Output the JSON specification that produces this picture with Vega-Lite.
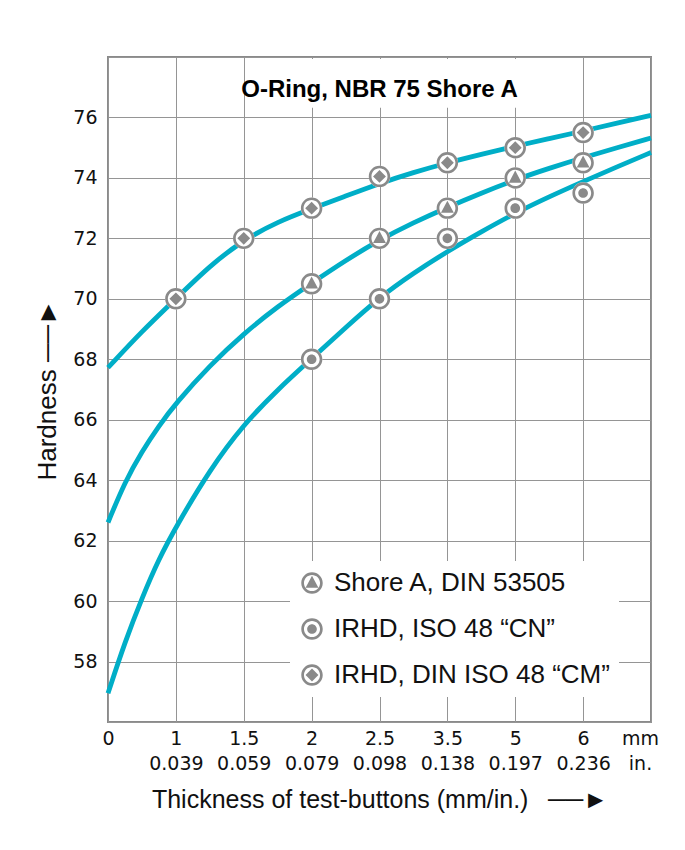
{
  "$schema": "https://vega.github.io/schema/vega-lite/v6.json",
  "width": 543,
  "height": 665,
  "autosize": {"type": "none"},
  "padding": {"left": 108, "top": 57, "right": 34, "bottom": 128},
  "background": "white",
  "title": {
    "text": "O-Ring, NBR 75 Shore A",
    "offset": -45,
    "anchor": "middle",
    "font": "Liberation Sans",
    "fontSize": 24,
    "fontWeight": "bold",
    "color": "#000000"
  },
  "datasets": {
    "curves": [
      {"method": "IRHD, DIN ISO 48 “CM”", "pos": 0, "hardness": 67.72},
      {"method": "IRHD, DIN ISO 48 “CM”", "pos": 0.5, "hardness": 68.93},
      {"method": "IRHD, DIN ISO 48 “CM”", "pos": 1, "hardness": 70.0},
      {"method": "IRHD, DIN ISO 48 “CM”", "pos": 1.5, "hardness": 71.1},
      {"method": "IRHD, DIN ISO 48 “CM”", "pos": 2, "hardness": 71.95},
      {"method": "IRHD, DIN ISO 48 “CM”", "pos": 2.5, "hardness": 72.55},
      {"method": "IRHD, DIN ISO 48 “CM”", "pos": 3, "hardness": 72.98},
      {"method": "IRHD, DIN ISO 48 “CM”", "pos": 3.5, "hardness": 73.4},
      {"method": "IRHD, DIN ISO 48 “CM”", "pos": 4, "hardness": 73.82},
      {"method": "IRHD, DIN ISO 48 “CM”", "pos": 4.5, "hardness": 74.18},
      {"method": "IRHD, DIN ISO 48 “CM”", "pos": 5, "hardness": 74.5},
      {"method": "IRHD, DIN ISO 48 “CM”", "pos": 5.5, "hardness": 74.78},
      {"method": "IRHD, DIN ISO 48 “CM”", "pos": 6, "hardness": 75.05},
      {"method": "IRHD, DIN ISO 48 “CM”", "pos": 6.5, "hardness": 75.3},
      {"method": "IRHD, DIN ISO 48 “CM”", "pos": 7, "hardness": 75.55},
      {"method": "IRHD, DIN ISO 48 “CM”", "pos": 7.5, "hardness": 75.81},
      {"method": "IRHD, DIN ISO 48 “CM”", "pos": 8, "hardness": 76.07},
      {"method": "Shore A, DIN 53505", "pos": 0, "hardness": 62.6},
      {"method": "Shore A, DIN 53505", "pos": 0.25, "hardness": 63.95},
      {"method": "Shore A, DIN 53505", "pos": 0.5, "hardness": 64.95},
      {"method": "Shore A, DIN 53505", "pos": 0.75, "hardness": 65.8},
      {"method": "Shore A, DIN 53505", "pos": 1, "hardness": 66.55},
      {"method": "Shore A, DIN 53505", "pos": 1.5, "hardness": 67.8},
      {"method": "Shore A, DIN 53505", "pos": 2, "hardness": 68.85},
      {"method": "Shore A, DIN 53505", "pos": 2.5, "hardness": 69.75},
      {"method": "Shore A, DIN 53505", "pos": 3, "hardness": 70.52},
      {"method": "Shore A, DIN 53505", "pos": 3.5, "hardness": 71.27},
      {"method": "Shore A, DIN 53505", "pos": 4, "hardness": 71.95},
      {"method": "Shore A, DIN 53505", "pos": 4.5, "hardness": 72.52},
      {"method": "Shore A, DIN 53505", "pos": 5, "hardness": 73.03},
      {"method": "Shore A, DIN 53505", "pos": 5.5, "hardness": 73.5},
      {"method": "Shore A, DIN 53505", "pos": 6, "hardness": 73.94},
      {"method": "Shore A, DIN 53505", "pos": 6.5, "hardness": 74.32},
      {"method": "Shore A, DIN 53505", "pos": 7, "hardness": 74.67},
      {"method": "Shore A, DIN 53505", "pos": 7.5, "hardness": 75.0},
      {"method": "Shore A, DIN 53505", "pos": 8, "hardness": 75.32},
      {"method": "IRHD, ISO 48 “CN”", "pos": 0, "hardness": 56.95},
      {"method": "IRHD, ISO 48 “CN”", "pos": 0.25, "hardness": 58.65},
      {"method": "IRHD, ISO 48 “CN”", "pos": 0.5, "hardness": 60.1},
      {"method": "IRHD, ISO 48 “CN”", "pos": 0.75, "hardness": 61.4},
      {"method": "IRHD, ISO 48 “CN”", "pos": 1, "hardness": 62.45},
      {"method": "IRHD, ISO 48 “CN”", "pos": 1.5, "hardness": 64.35},
      {"method": "IRHD, ISO 48 “CN”", "pos": 2, "hardness": 65.85},
      {"method": "IRHD, ISO 48 “CN”", "pos": 2.5, "hardness": 67.0},
      {"method": "IRHD, ISO 48 “CN”", "pos": 3, "hardness": 68.02},
      {"method": "IRHD, ISO 48 “CN”", "pos": 3.5, "hardness": 69.05},
      {"method": "IRHD, ISO 48 “CN”", "pos": 4, "hardness": 70.05},
      {"method": "IRHD, ISO 48 “CN”", "pos": 4.5, "hardness": 70.85},
      {"method": "IRHD, ISO 48 “CN”", "pos": 5, "hardness": 71.57},
      {"method": "IRHD, ISO 48 “CN”", "pos": 5.5, "hardness": 72.22},
      {"method": "IRHD, ISO 48 “CN”", "pos": 6, "hardness": 72.84},
      {"method": "IRHD, ISO 48 “CN”", "pos": 6.5, "hardness": 73.38},
      {"method": "IRHD, ISO 48 “CN”", "pos": 7, "hardness": 73.88},
      {"method": "IRHD, ISO 48 “CN”", "pos": 7.5, "hardness": 74.37},
      {"method": "IRHD, ISO 48 “CN”", "pos": 8, "hardness": 74.84}
    ],
    "markers": [
      {"method": "Shore A, DIN 53505", "pos": 3, "hardness": 70.5},
      {"method": "Shore A, DIN 53505", "pos": 4, "hardness": 72},
      {"method": "Shore A, DIN 53505", "pos": 5, "hardness": 73},
      {"method": "Shore A, DIN 53505", "pos": 6, "hardness": 74},
      {"method": "Shore A, DIN 53505", "pos": 7, "hardness": 74.5},
      {"method": "IRHD, ISO 48 “CN”", "pos": 3, "hardness": 68},
      {"method": "IRHD, ISO 48 “CN”", "pos": 4, "hardness": 70},
      {"method": "IRHD, ISO 48 “CN”", "pos": 5, "hardness": 72},
      {"method": "IRHD, ISO 48 “CN”", "pos": 6, "hardness": 73},
      {"method": "IRHD, ISO 48 “CN”", "pos": 7, "hardness": 73.5},
      {"method": "IRHD, DIN ISO 48 “CM”", "pos": 1, "hardness": 70},
      {"method": "IRHD, DIN ISO 48 “CM”", "pos": 2, "hardness": 72},
      {"method": "IRHD, DIN ISO 48 “CM”", "pos": 3, "hardness": 73},
      {"method": "IRHD, DIN ISO 48 “CM”", "pos": 4, "hardness": 74.05},
      {"method": "IRHD, DIN ISO 48 “CM”", "pos": 5, "hardness": 74.5},
      {"method": "IRHD, DIN ISO 48 “CM”", "pos": 6, "hardness": 75},
      {"method": "IRHD, DIN ISO 48 “CM”", "pos": 7, "hardness": 75.5}
    ]
  },
  "layer": [
    {
      "data": {"name": "curves"},
      "mark": {"type": "line", "color": "#00aec7", "strokeWidth": 4.8, "interpolate": "basis"},
      "encoding": {
        "x": {
          "field": "pos",
          "type": "quantitative",
          "scale": {"domain": [0, 8], "nice": false, "zero": false},
          "axis": {
            "values": [0, 1, 2, 3, 4, 5, 6, 7, 8],
            "labelExpr": "[['0'], ['1','0.039'], ['1.5','0.059'], ['2','0.079'], ['2.5','0.098'], ['3.5','0.138'], ['5','0.197'], ['6','0.236'], ['mm','in.']][datum.value]",
            "labelFlush": false,
            "labelOverlap": false,
            "labelPadding": 7,
            "labelLineHeight": 25,
            "labelBaseline": "top",
            "labelOffset": {"condition": {"test": "datum.value == 8", "value": -11}, "value": 0},
            "title": "Thickness of test-buttons (mm/in.)\u2002 ──►",
            "titlePadding": 14
          }
        },
        "y": {
          "field": "hardness",
          "type": "quantitative",
          "scale": {"domain": [56, 78], "nice": false, "zero": false},
          "axis": {
            "values": [56, 58, 60, 62, 64, 66, 68, 70, 72, 74, 76, 78],
            "labelExpr": "datum.value == 56 || datum.value == 78 ? '' : datum.label",
            "labelPadding": 11,
            "title": "Hardness ──►",
            "titleFontSize": 26,
            "titlePadding": 12
          }
        },
        "detail": {"field": "method"}
      }
    },
    {
      "data": {"values": [{}]},
      "mark": {"type": "rect", "fill": "white"},
      "encoding": {
        "x": {"datum": 2.1, "type": "quantitative"},
        "x2": {"datum": 6.9},
        "y": {"datum": 76.32, "type": "quantitative"},
        "y2": {"datum": 77.93}
      }
    },
    {
      "data": {"name": "markers"},
      "mark": {
        "type": "point",
        "filled": true,
        "fill": "white",
        "opacity": 1,
        "strokeWidth": 0,
        "size": 460,
        "shape": "M1,0A1,1,0,1,1,-1,0A1,1,0,1,1,1,0Z"
      },
      "encoding": {
        "x": {"field": "pos", "type": "quantitative"},
        "y": {"field": "hardness", "type": "quantitative"}
      }
    },
    {
      "data": {"name": "markers"},
      "mark": {"type": "point", "filled": true, "color": "#8a8a8a", "opacity": 1, "strokeWidth": 0, "size": 460},
      "encoding": {
        "x": {"field": "pos", "type": "quantitative"},
        "y": {"field": "hardness", "type": "quantitative"},
        "shape": {
          "field": "method",
          "type": "nominal",
          "scale": {
            "domain": ["Shore A, DIN 53505", "IRHD, ISO 48 “CN”", "IRHD, DIN ISO 48 “CM”"],
            "range": [
              "M1,0A1,1,0,1,1,-1,0A1,1,0,1,1,1,0ZM0.75,0A0.75,0.75,0,1,0,-0.75,0A0.75,0.75,0,1,0,0.75,0ZM0,-0.68L0.6,0.44L-0.6,0.44Z",
              "M1,0A1,1,0,1,1,-1,0A1,1,0,1,1,1,0ZM0.75,0A0.75,0.75,0,1,0,-0.75,0A0.75,0.75,0,1,0,0.75,0ZM0.45,0A0.45,0.45,0,1,1,-0.45,0A0.45,0.45,0,1,1,0.45,0Z",
              "M1,0A1,1,0,1,1,-1,0A1,1,0,1,1,1,0ZM0.75,0A0.75,0.75,0,1,0,-0.75,0A0.75,0.75,0,1,0,0.75,0ZM0,-0.6L0.6,0L0,0.6L-0.6,0Z"
            ]
          },
          "legend": {
            "title": null,
            "orient": "none",
            "legendX": 182,
            "legendY": 504,
            "fillColor": "white",
            "padding": 9,
            "labelFont": "Liberation Sans",
            "labelFontSize": 26,
            "labelColor": "#111111",
            "labelOffset": 9,
            "labelLimit": 400,
            "symbolSize": 460,
            "symbolFillColor": "#8a8a8a",
            "symbolStrokeWidth": 0,
            "symbolOpacity": 1,
            "rowPadding": 20
          }
        }
      }
    }
  ],
  "config": {
    "view": {"stroke": "#8a8a8a", "strokeWidth": 2},
    "axis": {
      "grid": true,
      "gridColor": "#959595",
      "gridWidth": 1,
      "gridOpacity": 1,
      "domain": false,
      "ticks": false,
      "labelColor": "#111111",
      "labelFont": "DejaVu Sans",
      "labelFontSize": 19,
      "titleColor": "#111111",
      "titleFont": "Liberation Sans, DejaVu Sans",
      "titleFontSize": 25,
      "titleFontWeight": "normal"
    }
  }
}
